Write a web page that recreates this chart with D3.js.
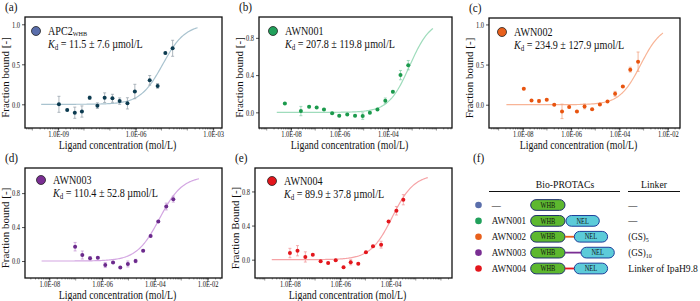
<!DOCTYPE html>
<html>
<head>
<meta charset="utf-8">
<script src="https://cdn.jsdelivr.net/npm/d3@7"></script>
<style>
  body { margin: 0; background: #fff; }
  svg text { font-family: "Liberation Serif", "Times New Roman", serif; fill: #111; }
</style>
</head>
<body>
<svg id="fig" width="700" height="301"></svg>
<script>
// values
var compounds = ["APC2", "AWN001", "AWN002", "AWN003", "AWN004"];
var kdLabels = ["11.5 ± 7.6", "207.8 ± 119.8", "234.9 ± 127.9", "110.4 ± 52.8", "89.9 ± 37.8"];

// ligand concentration (mol/L), fraction bound, error
var concA = [1.07e-9, 2.24e-9, 4.4e-9, 8.3e-9, 1.66e-8, 3.3e-8, 6.3e-8, 1.26e-7, 2.4e-7, 4.8e-7, 9.3e-7, 3.5e-6, 7.1e-6, 1.41e-5, 2.7e-5];
var fracA = [0.0, -0.07, -0.105, -0.09, 0.083, -0.017, 0.083, 0.075, 0.04, 0.012, 0.16, 0.30, 0.23, 0.64, 0.70];
var errA  = [0.1, 0.01, 0.07, 0.07, 0.02, 0.035, 0.06, 0.05, 0.04, 0.07, 0.09, 0.06, 0.03, 0.01, 0.1];

var concB = [5.6e-9, 2.57e-8, 5.6e-8, 1.15e-7, 2.3e-7, 5.0e-7, 9.8e-7, 2.1e-6, 4.4e-6, 9.1e-6, 1.8e-5, 3.7e-5, 7.8e-5, 1.6e-4, 3.3e-4, 6.9e-4];
var fracB = [0.096, 0.014, 0.06, 0.053, 0.032, -0.01, -0.036, -0.022, -0.036, -0.04, -0.004, 0.032, 0.124, 0.22, 0.40, 0.507];
var errB  = [0.01, 0.05, 0.01, 0.01, 0.01, 0.01, 0.01, 0.01, 0.01, 0.035, 0.01, 0.01, 0.03, 0.01, 0.05, 0.05];

var concC = [1.1e-8, 2.3e-8, 4.7e-8, 9.8e-8, 2.0e-7, 4.2e-7, 8.3e-7, 1.74e-6, 3.6e-6, 7.4e-6, 1.55e-5, 3.2e-5, 6.6e-5, 1.38e-4, 2.8e-4, 5.9e-4];
var fracC = [0.198, 0.053, 0.045, 0.062, 0.0, -0.083, -0.03, -0.083, -0.021, -0.058, 0.004, 0.041, 0.136, 0.226, 0.437, 0.536];
var errC  = [0.01, 0.01, 0.02, 0.01, 0.01, 0.09, 0.01, 0.01, 0.03, 0.01, 0.01, 0.01, 0.03, 0.01, 0.03, 0.12];

var concD = [9.5e-8, 1.78e-7, 3.5e-7, 6.9e-7, 1.32e-6, 2.6e-6, 4.9e-6, 9.5e-6, 1.86e-5, 3.6e-5, 6.9e-5, 1.35e-4, 2.7e-4, 5.0e-4];
var fracD = [0.169, 0.071, 0.032, 0.039, -0.047, -0.016, -0.075, -0.035, 0.0, 0.122, 0.296, 0.465, 0.642, 0.729];
var errD  = [0.05, 0.047, 0.02, 0.01, 0.03, 0.01, 0.01, 0.035, 0.02, 0.01, 0.01, 0.01, 0.04, 0.035];

var concE = [1.0e-8, 2.0e-8, 4.1e-8, 8.1e-8, 1.66e-7, 3.3e-7, 6.6e-7, 1.35e-6, 2.6e-6, 5.2e-6, 1.05e-5, 2.0e-5, 4.2e-5, 8.3e-5, 1.7e-4, 3.2e-4];
var fracE = [0.078, 0.105, 0.032, 0.059, -0.02, -0.039, -0.008, -0.09, -0.031, -0.047, 0.086, 0.156, 0.176, 0.449, 0.574, 0.703];
var errE  = [0.055, 0.06, 0.06, 0.01, 0.01, 0.01, 0.01, 0.01, 0.03, 0.01, 0.01, 0.01, 0.04, 0.01, 0.05, 0.06];

// fitted curves: half-binding concentration and drawn range (mol/L)
var fitHalf = [1.12e-5, 7.9e-4, 7.6e-4, 1.5e-4, 1.17e-4];
var fitFrom = [2.2e-10, 2.6e-9, 2.1e-9, 5.1e-9, 1.9e-9];
var fitTo   = [2.5e-4, 7.2e-3, 6.3e-3, 4.7e-3, 3.0e-3];

// axes
var xDomains = [[5.2e-11, 2.2e-3], [4.8e-10, 4.4e-2], [4.0e-10, 3.2e-2], [1.2e-9, 3.5e-2], [4.1e-10, 2.75e-2]];
var yDomains = [[-0.296, 1.091], [-0.168, 1.024], [-0.29, 1.08], [-0.2, 1.096], [-0.215, 1.075]];
var xTickVals = [[1e-9, 1e-6, 1e-3], [1e-8, 1e-6, 1e-4], [1e-8, 1e-6, 1e-4, 1e-2], [1e-8, 1e-6, 1e-4, 1e-2], [1e-8, 1e-6, 1e-4]];
var yTickVals = [[0, 0.5, 1.0], [0, 0.4, 0.8], [0, 0.5, 1.0], [0, 0.4, 0.8], [0, 0.4, 0.8]];
var yTitles = ["Fraction bound [-]", "Fraction bound [-]", "Fraction bound [-]", "Fraction bound [-]", "Fraction Bound [-]"];

// panel (f)
var rowLabels = ["—", "AWN001", "AWN002", "AWN003", "AWN004"];
var linkerText = ["—", "—", "(GS)", "(GS)", "Linker of IpaH9.8"];
var linkerSub = ["", "", "5", "10", ""];

// colours
var legendColor = ["#5a6eab", "#21a05b", "#e8601c", "#7a2e93", "#e3161c"];
var pointColor = ["#0c3b50", "#1b9a4c", "#e8540f", "#6b2a8c", "#e3161c"];
var curveColor = ["#a9c3cf", "#9fdcbc", "#f8b496", "#d3a6e2", "#f6a3a6"];
var errColor = ["#9aa6ae", "#8fcfae", "#f3a684", "#c69ad6", "#f19a9d"];

var conc = [concA, concB, concC, concD, concE];
var frac = [fracA, fracB, fracC, fracD, fracE];
var errs = [errA, errB, errC, errD, errE];

// layout
var boxes = [
  { l: 25, t: 17, r: 222, b: 128 },
  { l: 259, t: 17, r: 452, b: 128 },
  { l: 489, t: 18, r: 680, b: 128 },
  { l: 25, t: 168, r: 222, b: 278 },
  { l: 255, t: 168, r: 452, b: 278 }
];
var legendPos = [[11, 14], [14, 14], [13, 14], [16, 12], [17, 13]];
var panelLetters = ["(a)", "(b)", "(c)", "(d)", "(e)"];

var svg = d3.select("#fig");

// the figure's text is horizontally condensed
function squash(sel, k) {
  sel.each(function () {
    var L = this.getComputedTextLength();
    d3.select(this).attr("textLength", L * k).attr("lengthAdjust", "spacingAndGlyphs");
  });
}

function sciFmt(d) {
  var parts = d.toExponential(1).split("e");
  var e = +parts[1];
  return parts[0] + "E" + (e < 0 ? "-" : "+") + String(Math.abs(e)).padStart(2, "0");
}

function drawPanel(i) {
  var p = boxes[i];
  var g = svg.append("g");
  var x = d3.scaleLog().domain(xDomains[i]).range([p.l, p.r]);
  var y = d3.scaleLinear().domain(yDomains[i]).range([p.b, p.t]);

  // panel letter
  g.append("text").attr("x", p.l - 20).attr("y", p.t - 6)
    .attr("font-size", 12.5).text(panelLetters[i]).call(squash, 0.9);

  // minor log ticks
  var lo = Math.floor(Math.log10(xDomains[i][0])), hi = Math.ceil(Math.log10(xDomains[i][1]));
  var minor = [];
  for (var k = lo; k <= hi; k++) {
    for (var m = 1; m <= 9; m++) {
      var v = m * Math.pow(10, k);
      if (v > xDomains[i][0] && v < xDomains[i][1]) minor.push({ v: v, major: m === 1 });
    }
  }
  g.selectAll(".minor").data(minor).enter().append("line")
    .attr("x1", function (d) { return x(d.v); }).attr("x2", function (d) { return x(d.v); })
    .attr("y1", p.b).attr("y2", function (d) { return p.b + (d.major ? 2.5 : 1.5); })
    .attr("stroke", "#444").attr("stroke-width", 0.6);

  // x axis
  var gx = g.append("g").attr("transform", "translate(0," + p.b + ")")
    .call(d3.axisBottom(x).tickValues(xTickVals[i]).tickFormat(sciFmt).tickSize(2.5).tickPadding(0).tickSizeOuter(0));
  gx.select(".domain").remove();
  gx.selectAll("line").attr("stroke", "#222").attr("stroke-width", 0.8);
  gx.selectAll("text").attr("font-size", 8.5).attr("font-family", "Liberation Serif").attr("fill", "#222").call(squash, 0.76);

  // y axis
  var gy = g.append("g").attr("transform", "translate(" + p.l + ",0)")
    .call(d3.axisLeft(y).tickValues(yTickVals[i]).tickFormat(d3.format(".1f")).tickSize(3).tickPadding(2).tickSizeOuter(0));
  gy.select(".domain").remove();
  gy.selectAll("line").attr("stroke", "#222").attr("stroke-width", 0.8);
  gy.selectAll("text").attr("font-size", 8.5).attr("font-family", "Liberation Serif").attr("fill", "#222").call(squash, 0.76);

  // axis titles
  g.append("text").attr("x", (p.l + p.r) / 2 - 6).attr("y", p.b + 20.5)
    .attr("text-anchor", "middle").attr("font-size", 11.5)
    .text("Ligand concentration (mol/L)").call(squash, 0.86);
  g.append("text")
    .attr("transform", "translate(" + (p.l - 16.5) + "," + ((p.t + p.b) / 2 + 5) + ") rotate(-90)")
    .attr("text-anchor", "middle").attr("font-size", 11)
    .text(yTitles[i]);

  // fit curve
  var n = 150, a = Math.log10(fitFrom[i]), bnd = Math.log10(fitTo[i]);
  var pts = d3.range(n + 1).map(function (k) {
    var c = Math.pow(10, a + (bnd - a) * k / n);
    return [c, c / (fitHalf[i] + c)];
  });
  g.append("path").datum(pts)
    .attr("d", d3.line().x(function (d) { return x(d[0]); }).y(function (d) { return y(d[1]); }))
    .attr("fill", "none").attr("stroke", curveColor[i]).attr("stroke-width", 1.2);

  // error bars
  var data = conc[i].map(function (c, j) { return { c: c, f: frac[i][j], e: errs[i][j] }; });
  var eb = g.selectAll(".eb").data(data).enter().append("g")
    .attr("stroke", errColor[i]).attr("stroke-width", 0.8);
  eb.append("line")
    .attr("x1", function (d) { return x(d.c); }).attr("x2", function (d) { return x(d.c); })
    .attr("y1", function (d) { return y(d.f - d.e); }).attr("y2", function (d) { return y(d.f + d.e); });
  eb.append("line")
    .attr("x1", function (d) { return x(d.c) - 1.5; }).attr("x2", function (d) { return x(d.c) + 1.5; })
    .attr("y1", function (d) { return y(d.f - d.e); }).attr("y2", function (d) { return y(d.f - d.e); });
  eb.append("line")
    .attr("x1", function (d) { return x(d.c) - 1.5; }).attr("x2", function (d) { return x(d.c) + 1.5; })
    .attr("y1", function (d) { return y(d.f + d.e); }).attr("y2", function (d) { return y(d.f + d.e); });

  // points
  g.selectAll(".pt").data(data).enter().append("circle")
    .attr("cx", function (d) { return x(d.c); }).attr("cy", function (d) { return y(d.f); })
    .attr("r", 2).attr("fill", pointColor[i]);

  // frame
  g.append("rect").attr("x", p.l).attr("y", p.t).attr("width", p.r - p.l).attr("height", p.b - p.t)
    .attr("fill", "none").attr("stroke", "#111").attr("stroke-width", 1.3);

  // legend
  var cx = p.l + legendPos[i][0], cy = p.t + legendPos[i][1];
  g.append("circle").attr("cx", cx).attr("cy", cy).attr("r", 4.5)
    .attr("fill", legendColor[i]).attr("stroke", "#222").attr("stroke-width", 0.8);
  var name = g.append("text").attr("x", cx + 12).attr("y", cy + 4).attr("font-size", 11.5);
  name.append("tspan").text(compounds[i]);
  if (i === 0) name.append("tspan").attr("font-size", 7).attr("dy", 0.5).text("WHB");
  name.call(squash, 0.88);
  var kd = g.append("text").attr("x", cx + 12).attr("y", cy + 16.5).attr("font-size", 11.5);
  kd.append("tspan").attr("font-style", "italic").text("K");
  kd.append("tspan").attr("font-size", 8).attr("dy", 2).text("d");
  kd.append("tspan").attr("dy", -2).text(" = " + kdLabels[i] + " µmol/L");
  kd.call(squash, 0.88);
}

for (var i = 0; i < 5; i++) drawPanel(i);

// panel (f): construct schematic
var f = svg.append("g");
f.append("text").attr("x", 473).attr("y", 162).attr("font-size", 12.5).text("(f)").call(squash, 0.9);
f.append("text").attr("x", 565).attr("y", 188).attr("text-anchor", "middle").attr("font-size", 11)
  .text("Bio-PROTACs").call(squash, 0.88);
f.append("text").attr("x", 654).attr("y", 188).attr("text-anchor", "middle").attr("font-size", 11)
  .text("Linker").call(squash, 0.88);
f.append("line").attr("x1", 489).attr("x2", 620).attr("y1", 191.5).attr("y2", 191.5).attr("stroke", "#111").attr("stroke-width", 1);
f.append("line").attr("x1", 628).attr("x2", 680).attr("y1", 191.5).attr("y2", 191.5).attr("stroke", "#111").attr("stroke-width", 1);

var rowY = d3.scalePoint().domain(d3.range(5)).range([205, 268.5]);
var linkerPx = [0, 0, 8.3, 15, 8.3];
var linkerColor = [null, null, "#e8601c", "#7a2e93", "#e3161c"];
var whbL = 530.7, pillW = 34.3, pillH = 10.7;

rowLabels.forEach(function (lab, r) {
  var yy = rowY(r);
  f.append("circle").attr("cx", 478.5).attr("cy", yy).attr("r", 3.3).attr("fill", legendColor[r]);
  f.append("text").attr("x", 491.7).attr("y", yy + 3.6).attr("font-size", 10.5).text(lab).call(squash, 0.86);

  // WHB domain
  f.append("rect").attr("x", whbL).attr("y", yy - pillH / 2).attr("width", pillW).attr("height", pillH)
    .attr("rx", pillH / 2).attr("fill", "#5db82f").attr("stroke", "#1e2f6b").attr("stroke-width", 1);
  f.append("text").attr("x", whbL + pillW / 2).attr("y", yy + 2.7).attr("text-anchor", "middle")
    .attr("font-size", 7.5).attr("fill", "#1a1a3a").text("WHB").call(squash, 0.85);

  if (r > 0) {
    var nelL = whbL + pillW + 1 + linkerPx[r];
    if (linkerPx[r] > 0) {
      f.append("line").attr("x1", whbL + pillW).attr("x2", nelL).attr("y1", yy).attr("y2", yy)
        .attr("stroke", linkerColor[r]).attr("stroke-width", 1.8);
    }
    f.append("rect").attr("x", nelL).attr("y", yy - pillH / 2).attr("width", pillW - 1).attr("height", pillH)
      .attr("rx", pillH / 2).attr("fill", "#5ccbd9").attr("stroke", "#1d3f9a").attr("stroke-width", 1);
    f.append("text").attr("x", nelL + (pillW - 1) / 2).attr("y", yy + 2.7).attr("text-anchor", "middle")
      .attr("font-size", 7.5).attr("fill", "#1a1a3a").text("NEL").call(squash, 0.85);
  }

  var lt = f.append("text").attr("x", 628.3).attr("y", yy + 3.6).attr("font-size", r === 4 ? 9.6 : 10.5);
  lt.append("tspan").text(linkerText[r]);
  if (linkerSub[r]) lt.append("tspan").attr("font-size", 7).attr("dy", 2).text(linkerSub[r]);
  if (r < 4) lt.call(squash, 0.86);
});
</script>
</body>
</html>
